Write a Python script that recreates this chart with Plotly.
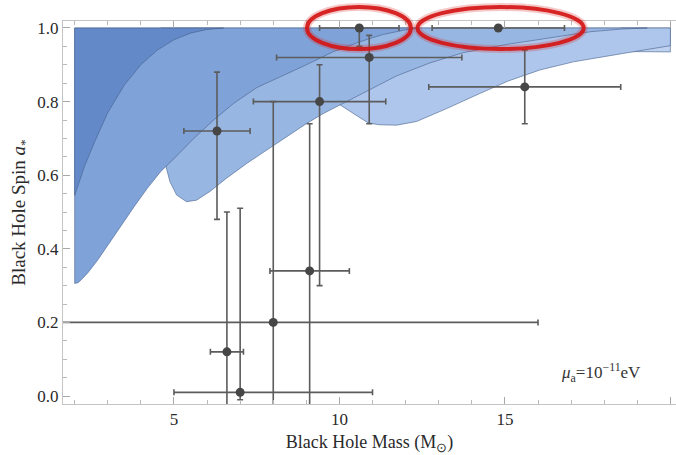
import plotly.graph_objects as go

# ---------------- data ----------------
# black hole measurements (mass in solar masses, dimensionless spin)
mass = [6.3, 9.4, 8.0, 9.1, 6.6, 7.0, 10.9, 10.6, 14.8, 15.6]
spin = [0.72, 0.80, 0.20, 0.34, 0.12, 0.01, 0.92, 1.00, 1.00, 0.84]
mass_err_minus = [1.0, 2.0, 8.0, 1.2, 0.5, 2.0, 2.8, 1.2, 2.0, 2.9]
mass_err_plus = [1.0, 2.0, 8.0, 1.2, 0.5, 4.0, 2.8, 1.2, 2.0, 2.9]
spin_err_minus = [0.24, 0.50, 0.60, 0.40, 0.38, 0.02, 0.18, 0.05, 0.0, 0.10]
spin_err_plus = [0.16, 0.10, 0.60, 0.40, 0.38, 0.50, 0.06, 0.0, 0.0, 0.10]

SPIN_MAX = 1.0

# exclusion region boundaries (lower edges, top edge is spin = 1)
dark_x = [2.0, 2.3, 2.6, 3.0, 3.5, 4.0, 4.5, 5.0, 5.5, 6.0, 6.5]
dark_y = [0.545, 0.625, 0.69, 0.77, 0.845, 0.90, 0.94, 0.968, 0.986, 0.996, 1.0]

mid_x = [2.0, 2.1, 2.2, 2.4, 2.7, 3.0, 3.4, 3.8, 4.2, 4.6, 5.0, 5.6, 6.2, 6.8,
         7.5, 8.2, 9.0, 9.8, 10.6, 11.3, 12.0, 12.4]
mid_y = [0.306, 0.308, 0.316, 0.335, 0.37, 0.41, 0.465, 0.515, 0.565, 0.61,
         0.645, 0.70, 0.75, 0.795, 0.838, 0.866, 0.90, 0.935, 0.962, 0.982,
         0.995, 1.0]

lobe1_x = [4.6, 4.76, 4.88, 5.08, 5.38, 5.68, 6.09, 6.59, 7.2, 7.8, 8.4, 9.0,
           9.5, 10.02, 10.72, 11.73, 12.73, 13.74, 15.1, 16.5, 17.6, 18.5, 19.3]
lobe1_y = [0.66, 0.623, 0.582, 0.546, 0.528, 0.532, 0.556, 0.592, 0.632,
           0.668, 0.705, 0.74, 0.767, 0.791, 0.822, 0.87, 0.905, 0.933,
           0.956, 0.975, 0.99, 0.997, 1.0]

lobe2_x = [10.02, 10.3, 10.52, 10.87, 11.2, 11.73, 12.33, 13.24, 14.24, 15.1,
           16.06, 17.07, 18.58, 20.0]
lobe2_y = [0.791, 0.775, 0.762, 0.742, 0.737, 0.736, 0.746, 0.781, 0.822,
           0.856, 0.886, 0.908, 0.931, 0.952]

lobe3_x = [18.5, 18.6, 20.0]
lobe3_y = [0.94, 0.936, 0.935]

x_ticks = [5, 10, 15, 20]
y_ticks = [0.0, 0.2, 0.4, 0.6, 0.8, 1.0]

X_RANGE = [1.647, 20.17]
Y_RANGE = [-0.0217, 1.019]

# ---------------- figure ----------------
fig = go.Figure()

edge = dict(color="rgba(70,95,140,0.75)", width=0.8)


def region(xs, ys, color):
    px = list(xs) + [xs[-1], xs[0], xs[0]]
    py = list(ys) + [SPIN_MAX, SPIN_MAX, ys[0]]
    fig.add_trace(go.Scatter(x=px, y=py, mode="lines", fill="toself",
                             fillcolor=color, line=edge, hoverinfo="skip",
                             showlegend=False))


region(lobe3_x, lobe3_y, "#bed2ef")
region(lobe2_x, lobe2_y, "#aec6eb")
region(lobe1_x, lobe1_y, "#98b6e2")
region(mid_x, mid_y, "#7fa2d9")
region(dark_x, dark_y, "#6389c9")

fig.add_trace(go.Scatter(
    x=mass, y=spin, mode="markers",
    marker=dict(color="#464646", size=9),
    error_x=dict(type="data", symmetric=False, array=mass_err_plus,
                 arrayminus=mass_err_minus, color="#5c5c5c", thickness=1.6,
                 width=3),
    error_y=dict(type="data", symmetric=False, array=spin_err_plus,
                 arrayminus=spin_err_minus, color="#5c5c5c", thickness=1.6,
                 width=3),
    hoverinfo="skip", showlegend=False))


# highlight ellipses around the two maximally spinning points
def to_px(x):
    return (x - X_RANGE[0]) / (X_RANGE[1] - X_RANGE[0])


def to_py(y):
    return (y - Y_RANGE[0]) / (Y_RANGE[1] - Y_RANGE[0])


highlight = [(7, 1.57, 0.057, -0.01), (8, 2.51, 0.057, 0.07)]
for idx, hw, hh, dx in highlight:
    cx = mass[idx] + dx
    cy = spin[idx]
    for w, col in [(8, "rgba(220,40,40,0.25)"), (4, "rgba(212,22,22,0.92)")]:
        fig.add_shape(type="circle", xref="paper", yref="paper",
                      x0=to_px(cx - hw), x1=to_px(cx + hw),
                      y0=to_py(cy - hh), y1=to_py(cy + hh),
                      line=dict(color=col, width=w))

fig.add_annotation(
    x=16.62, y=0.065, xref="x", yref="y", xanchor="left", yanchor="middle",
    text="<i>μ</i><sub>a</sub>=10<sup>−11</sup>eV", showarrow=False,
    font=dict(family="Liberation Serif", size=17, color="#333333"))

serif = "Liberation Serif, Times New Roman, serif"
axis_common = dict(
    showgrid=False, zeroline=False, showline=True, linecolor="#c4c4c4",
    linewidth=1, ticks="inside", ticklen=7, tickcolor="#a8a8a8",
    tickfont=dict(family=serif, size=17, color="#2a2a2a"),
)

fig.update_xaxes(
    **axis_common, range=X_RANGE, tickvals=x_ticks, mirror="ticks",
    minor=dict(dtick=1, tick0=0, ticks="inside", ticklen=4,
               tickcolor="#b8b8b8"),
    title=dict(text="Black Hole Mass (M<sub>⊙</sub>)",
               font=dict(family=serif, size=18, color="#2a2a2a"), standoff=7),
)
fig.update_yaxes(
    **axis_common, range=Y_RANGE, tickvals=y_ticks, tickformat=".1f",
    minor=dict(dtick=0.05, tick0=0, ticks="inside", ticklen=4,
               tickcolor="#b8b8b8"),
    title=dict(text="Black Hole Spin <i>a</i><sub>*</sub>",
               font=dict(family=serif, size=19, color="#2a2a2a"), standoff=6),
)

fig.update_layout(
    width=676, height=455, plot_bgcolor="white", paper_bgcolor="white",
    margin=dict(l=63, r=0, t=21, b=51, autoexpand=False),
)

fig.write_html("out.html", config={"displayModeBar": False},
               post_script="document.body.style.margin='0';"
                           "document.body.style.overflow='hidden';")
